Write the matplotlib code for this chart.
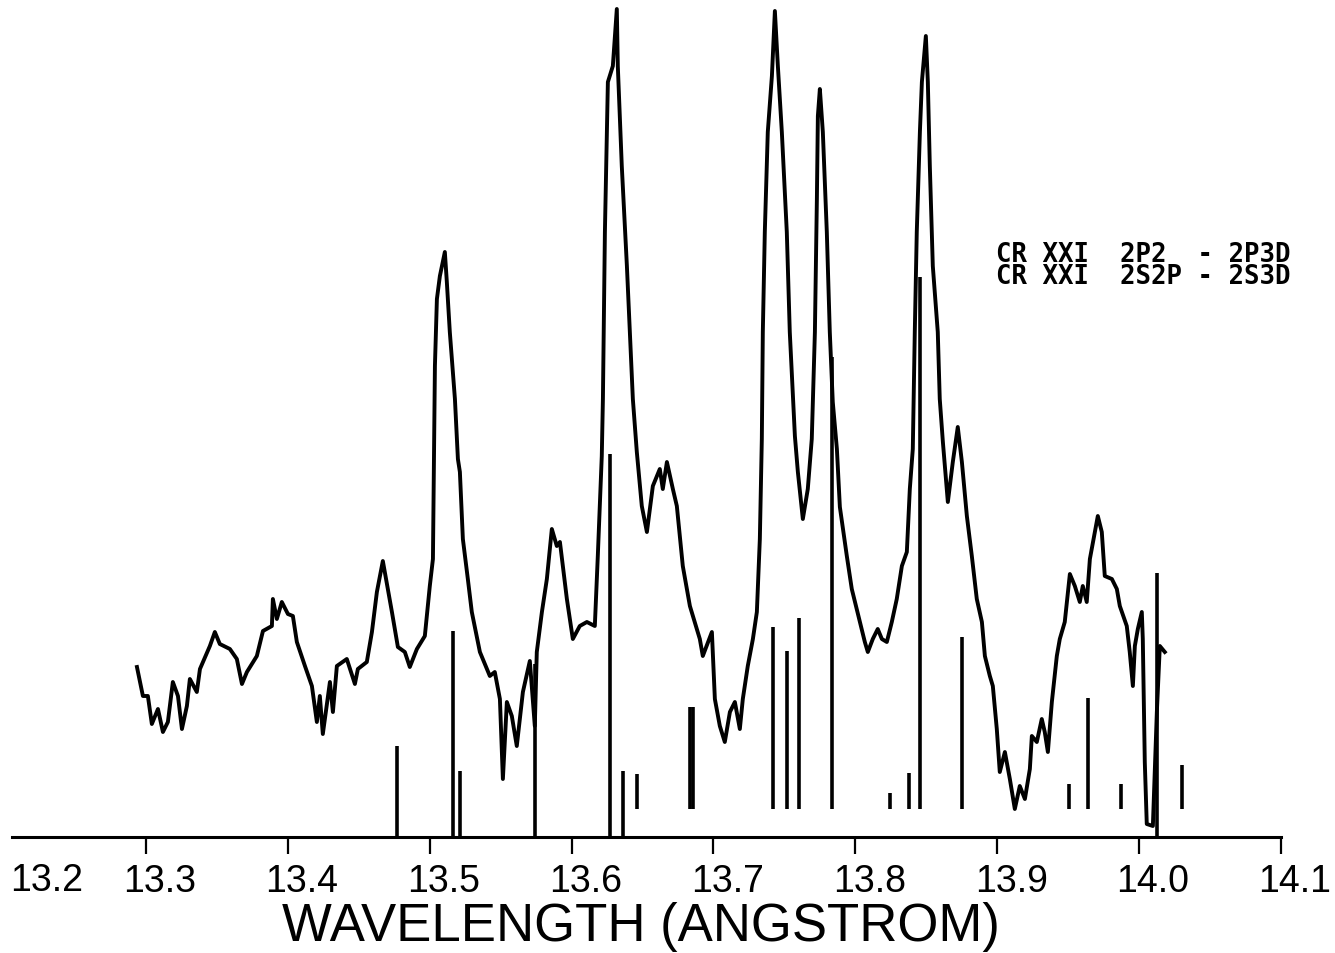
import matplotlib
matplotlib.use("Agg")
import matplotlib.pyplot as plt
from matplotlib.transforms import ScaledTranslation

# ---------------- data ----------------
spec_wl = [13.2937, 13.2979, 13.3014, 13.3042, 13.3085, 13.3120, 13.3155, 13.3190, 13.3226, 13.3254,
           13.3289, 13.3310, 13.3359, 13.3381, 13.3451, 13.3486, 13.3521, 13.3592, 13.3641, 13.3677,
           13.3712, 13.3782, 13.3825, 13.3888, 13.3895, 13.3923, 13.3958, 13.4001, 13.4036, 13.4064,
           13.4121, 13.4170, 13.4205, 13.4226, 13.4247, 13.4297, 13.4318, 13.4346, 13.4416, 13.4473,
           13.4494, 13.4557, 13.4593, 13.4628, 13.4670, 13.4734, 13.4776, 13.4825, 13.4860, 13.4910,
           13.4966, 13.5001, 13.5023, 13.5030, 13.5037, 13.5051, 13.5072, 13.5107, 13.5121, 13.5142,
           13.5178, 13.5199, 13.5213, 13.5234, 13.5269, 13.5297, 13.5354, 13.5424, 13.5459, 13.5495,
           13.5516, 13.5544, 13.5579, 13.5614, 13.5657, 13.5706, 13.5741, 13.5755, 13.5791, 13.5826,
           13.5861, 13.5896, 13.5918, 13.5967, 13.6009, 13.6058, 13.6108, 13.6164, 13.6185, 13.6213,
           13.6221, 13.6235, 13.6256, 13.6291, 13.6319, 13.6326, 13.6354, 13.6390, 13.6411, 13.6432,
           13.6460, 13.6495, 13.6531, 13.6573, 13.6622, 13.6643, 13.6672, 13.6714, 13.6742, 13.6784,
           13.6834, 13.6904, 13.6925, 13.6989, 13.7010, 13.7045, 13.7080, 13.7116, 13.7151, 13.7186,
           13.7207, 13.7242, 13.7278, 13.7306, 13.7327, 13.7341, 13.7348, 13.7362, 13.7383, 13.7412,
           13.7433, 13.7454, 13.7482, 13.7517, 13.7538, 13.7574, 13.7595, 13.7630, 13.7665, 13.7693,
           13.7715, 13.7729, 13.7736, 13.7750, 13.7771, 13.7799, 13.7820, 13.7841, 13.7870, 13.7891,
           13.7940, 13.7975, 13.8032, 13.8067, 13.8088, 13.8123, 13.8158, 13.8187, 13.8222, 13.8257,
           13.8292, 13.8328, 13.8363, 13.8384, 13.8405, 13.8419, 13.8433, 13.8455, 13.8469, 13.8497,
           13.8511, 13.8525, 13.8546, 13.8581, 13.8595, 13.8617, 13.8652, 13.8687, 13.8722, 13.8751,
           13.8786, 13.8821, 13.8856, 13.8892, 13.8913, 13.8948, 13.8969, 13.8997, 13.9018, 13.9054,
           13.9089, 13.9124, 13.9159, 13.9195, 13.9230, 13.9244, 13.9279, 13.9314, 13.9335, 13.9357,
           13.9385, 13.9420, 13.9441, 13.9476, 13.9512, 13.9547, 13.9582, 13.9603, 13.9631, 13.9653,
           13.9688, 13.9709, 13.9737, 13.9758, 13.9808, 13.9843, 13.9864, 13.9913, 13.9934, 13.9956,
           13.9970, 13.9991, 14.0019, 14.0026, 14.0040, 14.0054, 14.0097, 14.0125, 14.0146, 14.0181]

spec_int = [170, 141, 141, 113, 128, 105, 115, 155, 141, 108,
            131, 158, 145, 168, 191, 205, 193, 188, 178, 153,
            165, 181, 206, 211, 238, 218, 235, 223, 221, 195,
            171, 151, 115, 141, 103, 155, 125, 171, 178, 153,
            168, 175, 205, 245, 276, 225, 190, 185, 170, 188,
            201, 251, 278, 378, 471, 538, 561, 585, 555, 505,
            438, 378, 365, 298, 258, 225, 185, 161, 165, 138,
            58, 135, 121, 91, 145, 176, 111, 185, 225, 258,
            308, 291, 295, 238, 198, 211, 215, 211, 281, 381,
            438, 605, 755, 771, 828, 771, 671, 571, 505, 438,
            385, 331, 305, 351, 368, 348, 375, 348, 331, 271,
            231, 198, 181, 205, 138, 111, 95, 125, 135, 108,
            138, 171, 198, 225, 298, 398, 505, 605, 705, 761,
            826, 771, 705, 605, 505, 401, 365, 318, 348, 398,
            505, 638, 721, 748, 705, 605, 505, 435, 388, 330,
            281, 248, 215, 195, 185, 198, 208, 198, 195, 215,
            238, 271, 285, 348, 388, 505, 605, 705, 755, 801,
            755, 671, 571, 505, 438, 395, 335, 375, 410, 375,
            321, 281, 238, 215, 181, 161, 151, 108, 65, 85,
            58, 28, 51, 38, 68, 101, 95, 118, 105, 85,
            135, 181, 198, 215, 263, 251, 235, 251, 235, 278,
            305, 321, 305, 261, 258, 248, 231, 211, 185, 151,
            191, 208, 225, 198, 75, 13, 11, 125, 191, 185]

# identified Cr XXI lines (stick spectrum)
line_wl = [13.4769, 13.5164, 13.5213, 13.5741, 13.6270, 13.6362, 13.6460,
           13.6834, 13.6855, 13.7419, 13.7517, 13.7602, 13.7834, 13.8243,
           13.8377, 13.8455, 13.8750, 13.9505, 13.9638, 13.9871, 14.0125, 14.0301]
line_top = [91, 206, 66, 173, 383, 66, 63,
            130, 130, 210, 186, 219, 480, 44,
            64, 560, 200, 53, 139, 53, 264, 72]
line_base = [0, 0, 0, 0, 0, 0, 28,
             28, 28, 28, 28, 28, 28, 28,
             28, 28, 28, 28, 28, 28, 0, 28]

tick_values = [13.2, 13.3, 13.4, 13.5, 13.6, 13.7, 13.8, 13.9, 14.0, 14.1]
tick_labels = ["13.2", "13.3", "13.4", "13.5", "13.6", "13.7", "13.8", "13.9", "14.0", "14.1"]
legend_lines = ["CR XXI  2P2  - 2P3D", "CR XXI  2S2P - 2S3D"]
x_title = "WAVELENGTH (ANGSTROM)"

# ---------------- figure ----------------
W, H, DPI = 1335, 954, 100
fig = plt.figure(figsize=(W / DPI, H / DPI), dpi=DPI)
fig.patch.set_facecolor("white")
ax = fig.add_axes([4 / W, 116 / H, 1277 / W, 838 / H])
ax.set_xlim(tick_values[0], tick_values[-1])
ax.set_ylim(0, 838)

ax.plot(spec_wl, spec_int, color="black", lw=2.8, solid_joinstyle="round")
ax.vlines(line_wl, line_base, line_top, color="black", lw=2.6)

for s in ("left", "right", "top"):
    ax.spines[s].set_visible(False)
ax.spines["bottom"].set_linewidth(2.2)
ax.spines["bottom"].set_bounds(13.2056, 14.1)
ax.set_yticks([])

ax.set_xticks(tick_values[1:])
ax.set_xticklabels(tick_labels[1:])
ax.tick_params(axis="x", direction="out", length=12.5, width=1.6, pad=6,
               labelsize=27, color="black")
off = ScaledTranslation(14 / DPI, 0, fig.dpi_scale_trans)
for lbl in ax.get_xticklabels():
    lbl.set_fontfamily("Liberation Sans")
    lbl.set_transform(lbl.get_transform() + off)

# first label (no tick mark at the axis origin)
ax.annotate(tick_labels[0], xy=(tick_values[0], 0), xycoords="data",
            xytext=(30.5, -18), textcoords="offset points",
            ha="center", va="top", fontsize=27, family="Liberation Sans")

fig.text(641 / W, 1 - 927 / H, x_title, ha="center", va="center",
         fontsize=38, family="Liberation Sans")

fig.text(1290 / W, 1 - 266 / H, "\n".join(legend_lines), ha="right", va="center",
         fontsize=18.5, family="DejaVu Sans Mono", fontweight="bold",
         linespacing=0.78)

fig.savefig("out.png", dpi=DPI, facecolor="white")
